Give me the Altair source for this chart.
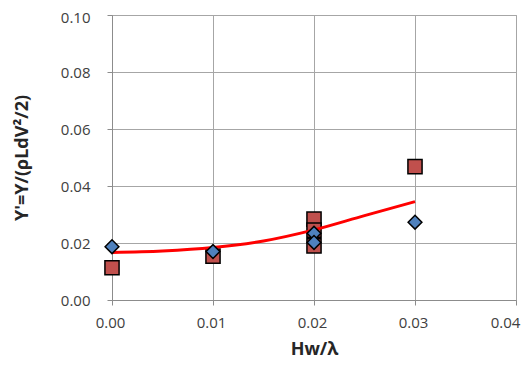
import altair as alt
import pandas as pd

sq_x = [0.00, 0.01, 0.02, 0.02, 0.02, 0.03]
sq_y = [0.0113, 0.0154, 0.0284, 0.0245, 0.0190, 0.0468]
di_x = [0.00, 0.01, 0.02, 0.02, 0.03]
di_y = [0.0187, 0.0170, 0.0234, 0.0202, 0.0273]
fit_x = [0.000, 0.005, 0.010, 0.015, 0.020, 0.025, 0.030]
fit_y = [0.0167, 0.0172, 0.0184, 0.0207, 0.0246, 0.0296, 0.0345]
x_ticks = [0.00, 0.01, 0.02, 0.03, 0.04]
y_ticks = [0.00, 0.02, 0.04, 0.06, 0.08, 0.10]

sq = pd.DataFrame({"x": sq_x, "y": sq_y})
di = pd.DataFrame({"x": di_x, "y": di_y})
fit = pd.DataFrame({"x": fit_x, "y": fit_y})

FONT = "Open Sans"
xs = alt.Scale(domain=[0, 0.04], nice=False)
ys = alt.Scale(domain=[0, 0.10], nice=False)
common = dict(format=".2f", titleFontSize=18, titleFontWeight="bold", titleFont=FONT,
              titleColor="#262626", labelFont=FONT, labelFontSize=15,
              labelColor="#404040", labelFlush=False, labelOverlap=False,
              grid=True, gridColor="#A6A6A6", domainColor="#8C8C8C",
              tickColor="#8C8C8C", tickSize=5)
xax = alt.Axis(values=x_ticks, title="Hw/λ", labelPadding=10, titlePadding=10,
               labelOffset=alt.ExprRef("datum.value > 0.035 ? -11 : -2"), **common)
yax = alt.Axis(values=y_ticks, title="Y'=Y/(ρLdV²/2)", labelPadding=17,
               labelOffset=alt.ExprRef("datum.value > 0.095 ? 2 : 0"),
               titleX=-90, titleBaseline="middle", **common)

base_x = alt.X("x:Q", scale=xs, axis=xax)
base_y = alt.Y("y:Q", scale=ys, axis=yax)

squares = alt.Chart(sq).mark_point(shape="square", filled=True, fill="#C0504D",
                                    stroke="#000000", strokeWidth=1.5, size=200,
                                    opacity=1).encode(x=base_x, y=base_y)
line = alt.Chart(fit).mark_line(color="#FF0000", strokeWidth=3,
                                interpolate="monotone").encode(x="x:Q", y="y:Q")
diamonds = alt.Chart(di).mark_point(shape="diamond", filled=True, fill="#4F81BD",
                                     stroke="#000000", strokeWidth=1.5, size=190,
                                     opacity=1).encode(x="x:Q", y="y:Q")

chart = alt.layer(squares, line, diamonds).properties(
    width=404, height=285,
    autosize=alt.AutoSizeParams(type="none"),
    padding={"left": 104, "top": 7, "right": 5, "bottom": 60},
    background="white",
).configure_view(stroke="#A6A6A6")

chart.save("out.html", embed_options={"renderer": "svg", "actions": False})
